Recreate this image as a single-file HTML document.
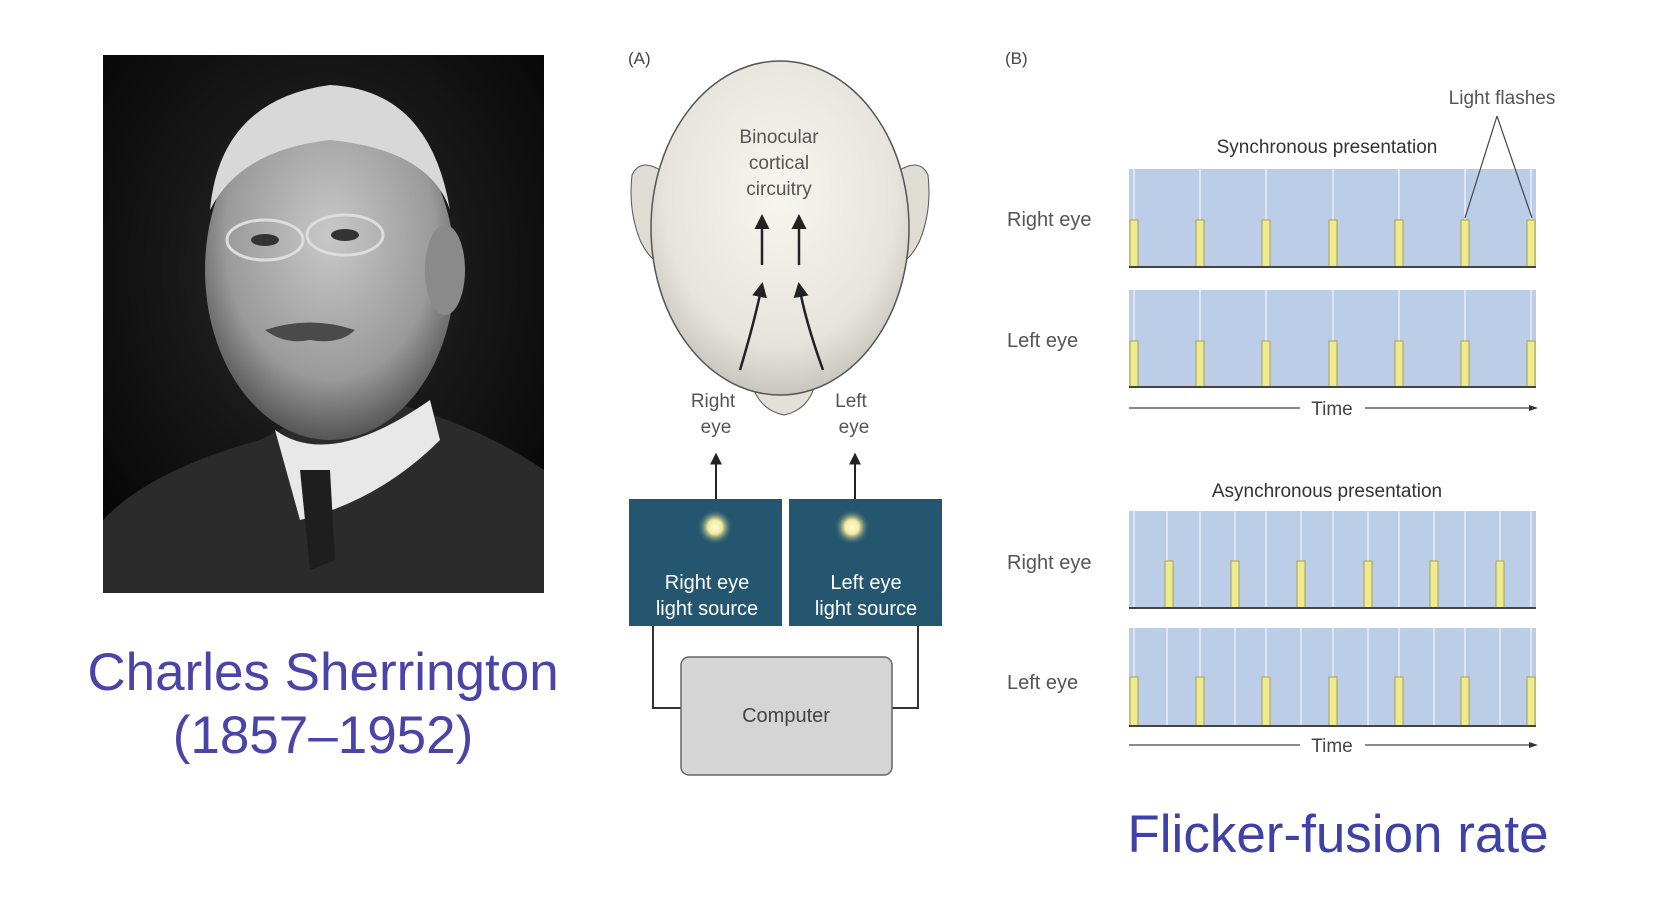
<!DOCTYPE html>
<html><head><meta charset="utf-8"><style>
html,body{margin:0;padding:0;background:#fff;}
body{width:1656px;height:902px;position:relative;overflow:hidden;font-family:"Liberation Sans",sans-serif;}
</style></head><body>
<svg width="1656" height="902" style="position:absolute;left:0;top:0" font-family="Liberation Sans, sans-serif">
<defs>
<radialGradient id="bg" cx="0.5" cy="0.4" r="0.7"><stop offset="0" stop-color="#2a2a2a"/><stop offset="1" stop-color="#050505"/></radialGradient>
<radialGradient id="face" cx="0.5" cy="0.4" r="0.6"><stop offset="0" stop-color="#c8c8c8"/><stop offset="0.7" stop-color="#9a9a9a"/><stop offset="1" stop-color="#555"/></radialGradient>
<radialGradient id="headg" cx="0.5" cy="0.4" r="0.6"><stop offset="0" stop-color="#f6f5ef"/><stop offset="0.75" stop-color="#e6e4dc"/><stop offset="1" stop-color="#c8c6bd"/></radialGradient>
<radialGradient id="glow"><stop offset="0" stop-color="#fffde0"/><stop offset="0.4" stop-color="#f3ea9a"/><stop offset="1" stop-color="#25566f" stop-opacity="0"/></radialGradient>
<marker id="ah" viewBox="0 0 10 10" refX="8" refY="5" markerWidth="6" markerHeight="6" orient="auto"><path d="M0,0L10,5L0,10z" fill="#222"/></marker>
</defs>
<!-- photo -->
<rect x="103" y="55" width="441" height="538" fill="url(#bg)"/>
<path d="M103,593 L103,520 Q150,470 260,440 L300,420 L380,400 Q470,420 544,470 L544,593z" fill="#2b2b2b"/>
<path d="M275,430 Q330,470 430,400 L440,440 Q380,500 300,520z" fill="#e8e8e8"/>
<path d="M300,470 L330,470 L335,560 L310,570z" fill="#1e1e1e"/>
<ellipse cx="330" cy="270" rx="125" ry="170" fill="url(#face)"/>
<path d="M210,210 Q220,100 330,85 Q430,90 450,210 Q430,150 330,140 Q240,150 210,210z" fill="#d8d8d8"/>
<ellipse cx="445" cy="270" rx="20" ry="45" fill="#8a8a8a"/>
<path d="M265,330 Q310,315 355,330 Q340,345 310,340 Q285,345 265,330z" fill="#4a4a4a"/>
<ellipse cx="265" cy="240" rx="38" ry="20" fill="none" stroke="#ddd" stroke-width="3"/>
<ellipse cx="345" cy="235" rx="38" ry="20" fill="none" stroke="#ddd" stroke-width="3"/>
<ellipse cx="265" cy="240" rx="14" ry="6" fill="#333"/>
<ellipse cx="345" cy="235" rx="14" ry="6" fill="#333"/>
<text x="323" y="690" font-size="53" fill="#4b44a8" text-anchor="middle">Charles Sherrington</text>
<text x="323" y="753" font-size="53" fill="#4b44a8" text-anchor="middle">(1857–1952)</text>

<!-- (A) -->
<text x="628" y="64" font-size="17" fill="#444">(A)</text>
<path d="M660,170 Q640,158 632,175 Q628,210 640,240 Q650,262 665,265z" fill="#dedcd3" stroke="#555"/>
<path d="M900,170 Q920,158 928,175 Q932,210 920,240 Q910,262 895,265z" fill="#dedcd3" stroke="#555"/>
<path d="M752,385 Q760,410 784,415 Q808,410 815,385z" fill="#e2e0d7" stroke="#555"/>
<ellipse cx="780" cy="228" rx="129" ry="167" fill="url(#headg)" stroke="#555" stroke-width="1.5"/>
<text font-size="19" fill="#555" text-anchor="middle"><tspan x="779" y="143">Binocular</tspan><tspan x="779" y="169">cortical</tspan><tspan x="779" y="195">circuitry</tspan></text>
<line x1="762" y1="265" x2="762" y2="217" stroke="#222" stroke-width="2.5" marker-end="url(#ah)"/>
<line x1="799" y1="265" x2="799" y2="217" stroke="#222" stroke-width="2.5" marker-end="url(#ah)"/>
<path d="M740,370 Q755,320 762,285" fill="none" stroke="#222" stroke-width="2.5" marker-end="url(#ah)"/>
<path d="M823,370 Q805,320 799,285" fill="none" stroke="#222" stroke-width="2.5" marker-end="url(#ah)"/>
<text font-size="19" fill="#555" text-anchor="middle"><tspan x="713" y="407">Right</tspan><tspan x="716" y="433">eye</tspan><tspan x="851" y="407">Left</tspan><tspan x="854" y="433">eye</tspan></text>
<line x1="716" y1="499" x2="716" y2="455" stroke="#222" stroke-width="2" marker-end="url(#ah)"/>
<line x1="855" y1="499" x2="855" y2="455" stroke="#222" stroke-width="2" marker-end="url(#ah)"/>
<path d="M653,626 L653,708 L681,708 M918,626 L918,708 L892,708" fill="none" stroke="#333" stroke-width="2"/>
<rect x="629" y="499" width="153" height="127" fill="#25566f"/>
<rect x="789" y="499" width="153" height="127" fill="#25566f"/>
<circle cx="715" cy="527" r="18" fill="url(#glow)"/>
<circle cx="852" cy="527" r="18" fill="url(#glow)"/>
<text font-size="20" fill="#fff" text-anchor="middle"><tspan x="707" y="589">Right eye</tspan><tspan x="707" y="615">light source</tspan><tspan x="866" y="589">Left eye</tspan><tspan x="866" y="615">light source</tspan></text>
<rect x="681" y="657" width="211" height="118" rx="8" fill="#d5d5d5" stroke="#666" stroke-width="1.5"/>
<text x="786" y="722" font-size="20" fill="#444" text-anchor="middle">Computer</text>

<!-- (B) -->
<text x="1005" y="64" font-size="17" fill="#444">(B)</text>
<text x="1502" y="104" font-size="19" fill="#555" text-anchor="middle">Light flashes</text>
<text x="1327" y="153" font-size="19" fill="#333" text-anchor="middle">Synchronous presentation</text>
<text x="1327" y="497" font-size="19" fill="#333" text-anchor="middle">Asynchronous presentation</text>
<g font-size="20" fill="#555">
<text x="1007" y="226">Right eye</text><text x="1007" y="347">Left eye</text>
<text x="1007" y="569">Right eye</text><text x="1007" y="689">Left eye</text>
</g>
<rect x="1129" y="169" width="407" height="98" fill="#bccde8"/>
<rect x="1129" y="290" width="407" height="97" fill="#bccde8"/>
<rect x="1129" y="511" width="407" height="97" fill="#bccde8"/>
<rect x="1129" y="628" width="407" height="98" fill="#bccde8"/>
<g stroke="#e8eef8" stroke-width="1.5">
<path d="M1134,169V220M1200,169V220M1266,169V220M1333,169V220M1399,169V220M1465,169V220M1531,169V220"/>
<path d="M1134,290V341M1200,290V341M1266,290V341M1333,290V341M1399,290V341M1465,290V341M1531,290V341"/>
<path d="M1134,511V608M1167,511V608M1200,511V608M1235,511V608M1266,511V608M1301,511V608M1333,511V608M1368,511V608M1399,511V608M1434,511V608M1465,511V608M1500,511V608M1531,511V608"/>
<path d="M1134,628V726M1167,628V726M1200,628V726M1235,628V726M1266,628V726M1301,628V726M1333,628V726M1368,628V726M1399,628V726M1434,628V726M1465,628V726M1500,628V726M1531,628V726"/>
</g>
<g fill="#eeea8e" stroke="#a8a050" stroke-width="1">
<rect x="1130" y="220" width="8" height="47"/><rect x="1196" y="220" width="8" height="47"/><rect x="1262" y="220" width="8" height="47"/><rect x="1329" y="220" width="8" height="47"/><rect x="1395" y="220" width="8" height="47"/><rect x="1461" y="220" width="8" height="47"/><rect x="1527" y="220" width="8" height="47"/>
<rect x="1130" y="341" width="8" height="46"/><rect x="1196" y="341" width="8" height="46"/><rect x="1262" y="341" width="8" height="46"/><rect x="1329" y="341" width="8" height="46"/><rect x="1395" y="341" width="8" height="46"/><rect x="1461" y="341" width="8" height="46"/><rect x="1527" y="341" width="8" height="46"/>
<rect x="1165" y="561" width="8" height="47"/><rect x="1231" y="561" width="8" height="47"/><rect x="1297" y="561" width="8" height="47"/><rect x="1364" y="561" width="8" height="47"/><rect x="1430" y="561" width="8" height="47"/><rect x="1496" y="561" width="8" height="47"/>
<rect x="1130" y="677" width="8" height="49"/><rect x="1196" y="677" width="8" height="49"/><rect x="1262" y="677" width="8" height="49"/><rect x="1329" y="677" width="8" height="49"/><rect x="1395" y="677" width="8" height="49"/><rect x="1461" y="677" width="8" height="49"/><rect x="1527" y="677" width="8" height="49"/>
</g>
<g stroke="#444" stroke-width="2">
<path d="M1129,267H1536M1129,387H1536M1129,608H1536M1129,726H1536"/>
</g>
<g stroke="#444" stroke-width="1.2" fill="none">
<path d="M1497,116L1465,218M1497,116L1532,218"/>
<path d="M1129,408H1300M1365,408H1536"/>
<path d="M1129,745H1300M1365,745H1536"/>
</g>
<path d="M1538,408l-9,-3v6z M1538,745l-9,-3v6z" fill="#333"/>
<text x="1332" y="415" font-size="19" fill="#444" text-anchor="middle">Time</text>
<text x="1332" y="752" font-size="19" fill="#444" text-anchor="middle">Time</text>
<text x="1338" y="852" font-size="53" fill="#3e42a6" text-anchor="middle">Flicker-fusion rate</text>
</svg>
</body></html>
